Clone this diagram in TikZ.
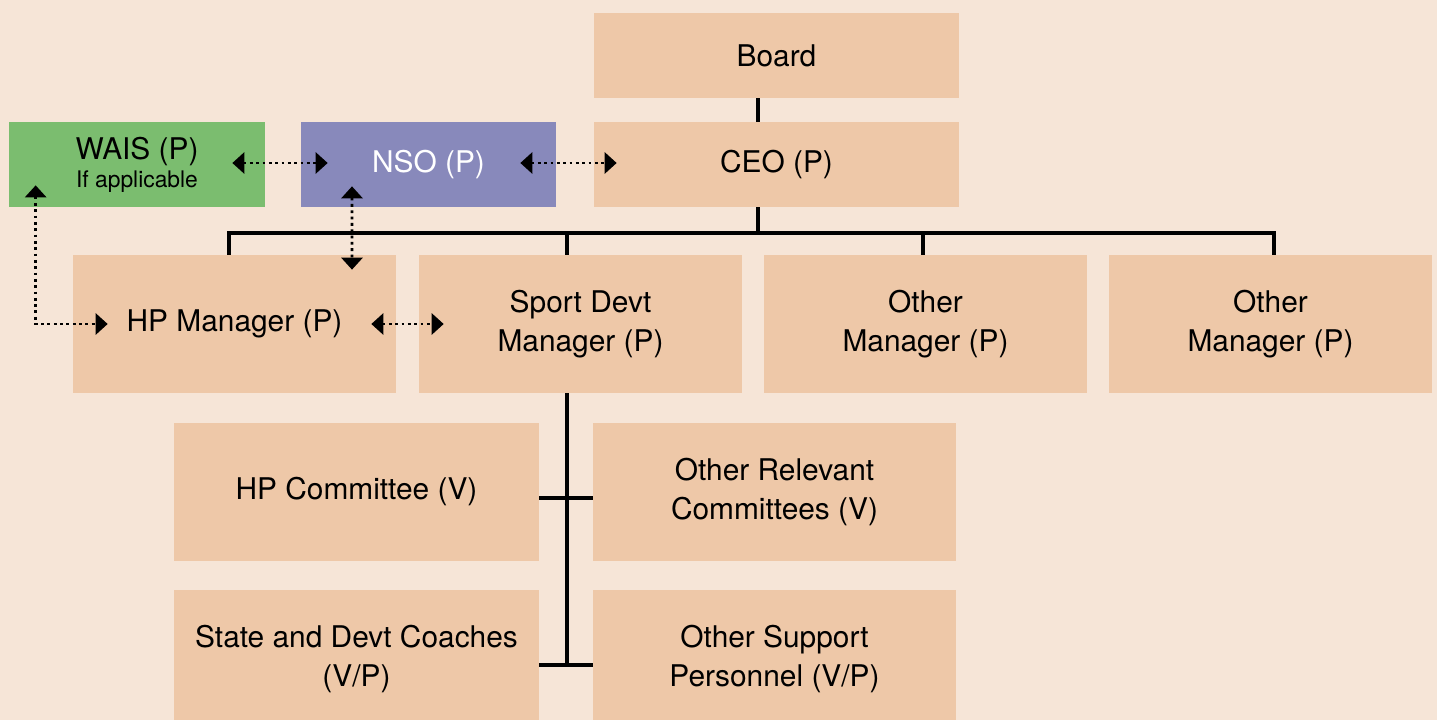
\documentclass[tikz,border=0pt]{standalone}
\usepackage{fontspec}
\setmainfont{TeX Gyre Heros}
\usetikzlibrary{arrows.meta,calc}

\definecolor{bgpeach}{HTML}{F6E5D7}
\definecolor{boxpeach}{HTML}{EEC8A8}
\definecolor{waisgreen}{HTML}{7BBD6F}
\definecolor{nsopurple}{HTML}{8889BB}

\tikzset{
  orgbox/.style={fill=boxpeach, inner sep=0pt, align=center,
    minimum width=#1, minimum height=2.76cm,
    font=\fontsize{17}{22}\selectfont},
  topbox/.style={orgbox=#1, minimum height=1.7cm},
  orgline/.style={line width=1.9pt},
  dotlink/.style={line width=1.6pt, dash pattern=on 1.6pt off 2pt,
    {Triangle[length=0.24cm,width=0.42cm]}-{Triangle[length=0.24cm,width=0.42cm]}},
}

\begin{document}
\begin{tikzpicture}[x=0.02cm, y=-0.02cm]
\clip (0,0) rectangle (1437,720);
\fill[bgpeach] (0,0) rectangle (1437,720);

% top of the chart
\node[topbox=7.3cm] (board) at (776.5,55.5) {Board};
\node[topbox=7.3cm] (ceo) at (776.5,164.5) {CEO (P)};
\node[topbox=5.12cm, fill=waisgreen] (wais) at (137,164.5)
  {WAIS (P)\\[-6pt]{\fontsize{13}{15}\selectfont If applicable}};
\node[topbox=5.1cm, fill=nsopurple, text=white] (nso) at (428.5,164.5) {NSO (P)};

% managers
\node[orgbox=6.46cm] (hpm) at (234.5,324) {HP Manager (P)};
\node[orgbox=6.46cm] (sdm) at (580.5,324) {Sport Devt\\Manager (P)};
\node[orgbox=6.46cm] (om1) at (925.5,324) {Other\\Manager (P)};
\node[orgbox=6.46cm] (om2) at (1270.5,324) {Other\\Manager (P)};

% under sport devt
\node[orgbox=7.3cm] (hpc) at (356.5,492) {HP Committee (V)};
\node[orgbox=7.26cm] (orc) at (774.5,492) {Other Relevant\\Committees (V)};
\node[orgbox=7.3cm] (sdc) at (356.5,659) {State and Devt Coaches\\(V/P)};
\node[orgbox=7.26cm] (osp) at (774.5,659) {Other Support\\Personnel (V/P)};

% solid reporting lines
\coordinate (trunk) at (758,233);
\coordinate (d1) at (229,233);
\coordinate (d2) at (567,233);
\coordinate (d3) at (923,233);
\coordinate (d4) at (1274,233);
\draw[orgline] (board.south -| trunk) -- (ceo.north -| trunk);
\draw[orgline] (ceo.south -| trunk) -- (trunk);
\draw[orgline] (d1 |- hpm.north) -- (d1) -- (d4) -- (d4 |- om2.north);
\draw[orgline] (d2) -- (d2 |- sdm.north);
\draw[orgline] (d3) -- (d3 |- om1.north);
\coordinate (tick1) at ($(hpc.east)+(0,6)$);
\coordinate (tick2) at ($(sdc.east)+(0,6)$);
\draw[orgline] (tick1) -- (tick1 -| orc.west);
\draw[orgline] (tick2) -- (tick2 -| osp.west);
\draw[orgline] (d2 |- sdm.south) -- (d2 |- tick2);

% dotted links
\draw[dotlink] ($(wais.east)+(-33,-1.5)$) -- ($(nso.west)+(27,-1.5)$);
\draw[dotlink] ($(nso.east)+(-36,-1.5)$) -- ($(ceo.west)+(23,-1.5)$);
\draw[dotlink] ($(nso.south)+(-76.5,-21)$) -- ($(hpm.north)+(117.5,15)$);
\draw[dotlink] ($(wais.south west)+(27,-22)$) |- ($(hpm.west)+(35,0)$);
\draw[dotlink] ($(hpm.east)+(-25,0)$) -- ($(sdm.west)+(25,0)$);
\end{tikzpicture}
\end{document}
